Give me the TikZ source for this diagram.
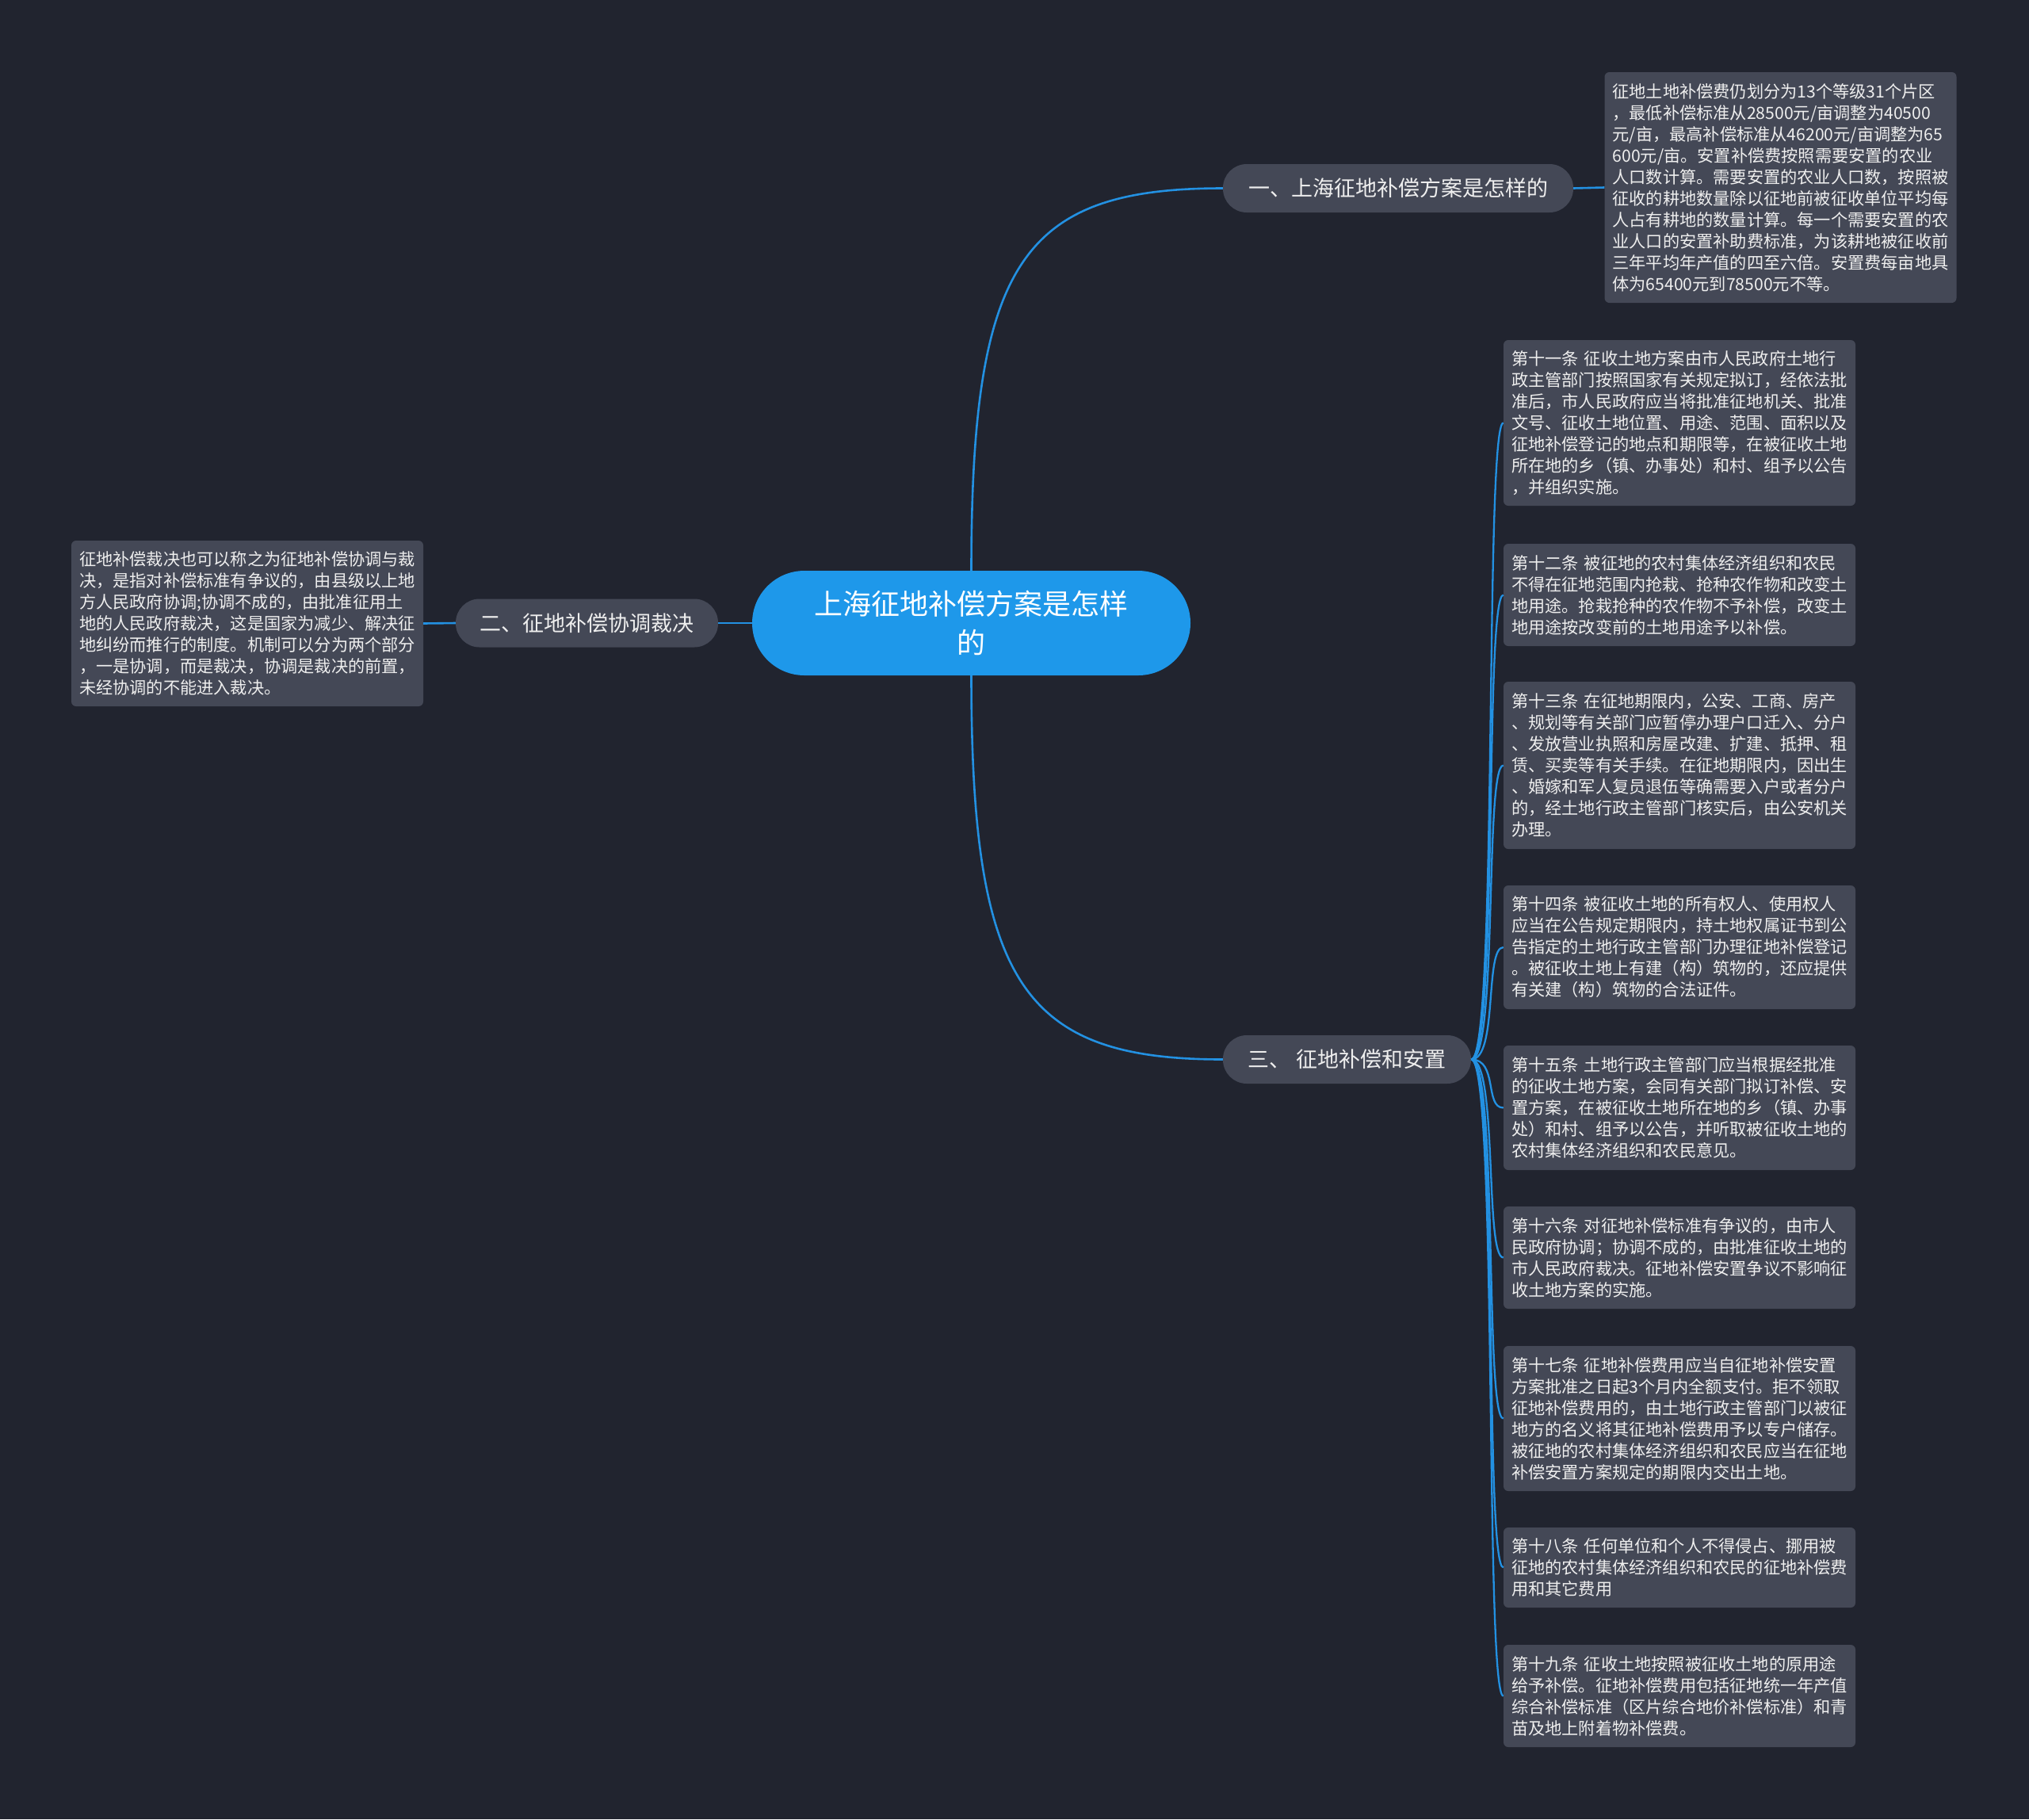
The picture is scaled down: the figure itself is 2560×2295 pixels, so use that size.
\documentclass[tikz,border=0pt]{standalone}
\usepackage{fontspec}
\setmainfont{Noto Sans CJK SC}
\definecolor{bg}{HTML}{21242F}
\definecolor{boxfill}{HTML}{444856}
\definecolor{rootblue}{HTML}{1E98EA}
\definecolor{linkblue}{HTML}{2391E2}
\definecolor{txt}{HTML}{EEEEEE}
\tikzset{
  leafbox/.style={draw=none, fill=boxfill, rounded corners=6pt, text=txt,
    text width=424pt, inner xsep=10pt, inner ysep=0pt, align=left,
    font=\fontsize{21.2}{27}\selectfont},
  branchbox/.style={draw=none, fill=boxfill, rounded corners=30pt, text=txt,
    minimum height=61pt, inner ysep=0pt, font=\fontsize{27}{32}\selectfont},
  rootbox/.style={draw=none, fill=rootblue, rounded corners=66pt, text=white,
    minimum width=553pt, minimum height=132pt, align=center, inner sep=0pt,
    font=\fontsize{36}{49}\selectfont},
  link/.style={draw=linkblue, line width=2.6pt}
}
\begin{document}
\begin{tikzpicture}[x=1pt,y=-1pt]
\fill[bg] (0,0) rectangle (2560,2295);
\useasboundingbox (0,0) rectangle (2560,2295);

% connectors (drawn first so that nodes cover their ends)
\coordinate (c1) at (1543,237.5);
\coordinate (c3) at (1543,1336.5);

\node[rootbox] (root) at (1225.5,786) {上海征地补偿方案是怎样\\的};

\node[branchbox, minimum width=442pt] (b1) at (1764,237.5) {一、上海征地补偿方案是怎样的};
\node[branchbox, minimum width=331pt] (b2) at (740.5,786) {二、征地补偿协调裁决};
\node[branchbox, minimum width=313pt] (b3) at (1699.5,1336.5) {三、 征地补偿和安置};

\node[leafbox, minimum height=291pt] (t1) at (2246.5,236.5) {征地土地补偿费仍划分为13个等级31个片区\\，最低补偿标准从28500元/亩调整为40500\\元/亩，最高补偿标准从46200元/亩调整为65\\600元/亩。安置补偿费按照需要安置的农业\\人口数计算。需要安置的农业人口数，按照被\\征收的耕地数量除以征地前被征收单位平均每\\人占有耕地的数量计算。每一个需要安置的农\\业人口的安置补助费标准，为该耕地被征收前\\三年平均年产值的四至六倍。安置费每亩地具\\体为65400元到78500元不等。};

\node[leafbox, minimum height=209pt] (t2) at (312,786.5) {征地补偿裁决也可以称之为征地补偿协调与裁\\决，是指对补偿标准有争议的，由县级以上地\\方人民政府协调;协调不成的，由批准征用土\\地的人民政府裁决，这是国家为减少、解决征\\地纠纷而推行的制度。机制可以分为两个部分\\，一是协调，而是裁决，协调是裁决的前置，\\未经协调的不能进入裁决。};

\node[leafbox, minimum height=209pt] (r1) at (2119,533.5) {第十一条 征收土地方案由市人民政府土地行\\政主管部门按照国家有关规定拟订，经依法批\\准后，市人民政府应当将批准征地机关、批准\\文号、征收土地位置、用途、范围、面积以及\\征地补偿登记的地点和期限等，在被征收土地\\所在地的乡（镇、办事处）和村、组予以公告\\，并组织实施。};
\node[leafbox, minimum height=129pt] (r2) at (2119,750.5) {第十二条 被征地的农村集体经济组织和农民\\不得在征地范围内抢栽、抢种农作物和改变土\\地用途。抢栽抢种的农作物不予补偿，改变土\\地用途按改变前的土地用途予以补偿。};
\node[leafbox, minimum height=211pt] (r3) at (2119,965.5) {第十三条 在征地期限内，公安、工商、房产\\、规划等有关部门应暂停办理户口迁入、分户\\、发放营业执照和房屋改建、扩建、抵押、租\\赁、买卖等有关手续。在征地期限内，因出生\\、婚嫁和军人复员退伍等确需要入户或者分户\\的，经土地行政主管部门核实后，由公安机关\\办理。};
\node[leafbox, minimum height=156pt] (r4) at (2119,1195) {第十四条 被征收土地的所有权人、使用权人\\应当在公告规定期限内，持土地权属证书到公\\告指定的土地行政主管部门办理征地补偿登记\\。被征收土地上有建（构）筑物的，还应提供\\有关建（构）筑物的合法证件。};
\node[leafbox, minimum height=157pt] (r5) at (2119,1397.5) {第十五条 土地行政主管部门应当根据经批准\\的征收土地方案，会同有关部门拟订补偿、安\\置方案，在被征收土地所在地的乡（镇、办事\\处）和村、组予以公告，并听取被征收土地的\\农村集体经济组织和农民意见。};
\node[leafbox, minimum height=129pt] (r6) at (2119,1586.5) {第十六条 对征地补偿标准有争议的，由市人\\民政府协调；协调不成的，由批准征收土地的\\市人民政府裁决。征地补偿安置争议不影响征\\收土地方案的实施。};
\node[leafbox, minimum height=183pt] (r7) at (2119,1789.5) {第十七条 征地补偿费用应当自征地补偿安置\\方案批准之日起3个月内全额支付。拒不领取\\征地补偿费用的，由土地行政主管部门以被征\\地方的名义将其征地补偿费用予以专户储存。\\被征地的农村集体经济组织和农民应当在征地\\补偿安置方案规定的期限内交出土地。};
\node[leafbox, minimum height=101pt] (r8) at (2119,1977.5) {第十八条 任何单位和个人不得侵占、挪用被\\征地的农村集体经济组织和农民的征地补偿费\\用和其它费用};
\node[leafbox, minimum height=129pt] (r9) at (2119,2139.5) {第十九条 征收土地按照被征收土地的原用途\\给予补偿。征地补偿费用包括征地统一年产值\\综合补偿标准（区片综合地价补偿标准）和青\\苗及地上附着物补偿费。};

\draw[link] (root.north) .. controls (1225.5,330) and (1290,237.5) .. (b1.west);
\draw[link] (root.south) .. controls (1225.5,1240) and (1290,1336.5) .. (b3.west);
\draw[link] (root.west) -- (b2.east);
\draw[link] (b2.west) -- (t2.east);
\draw[link] (b1.east) -- (t1.west);
\foreach \r in {r1,r2,r3,r4,r5,r6,r7,r8,r9}{
  \draw[link, line width=2.3pt] (b3.east) .. controls +(34,0) and +(-24,0) .. (\r.west);
}
\end{tikzpicture}
\end{document}
